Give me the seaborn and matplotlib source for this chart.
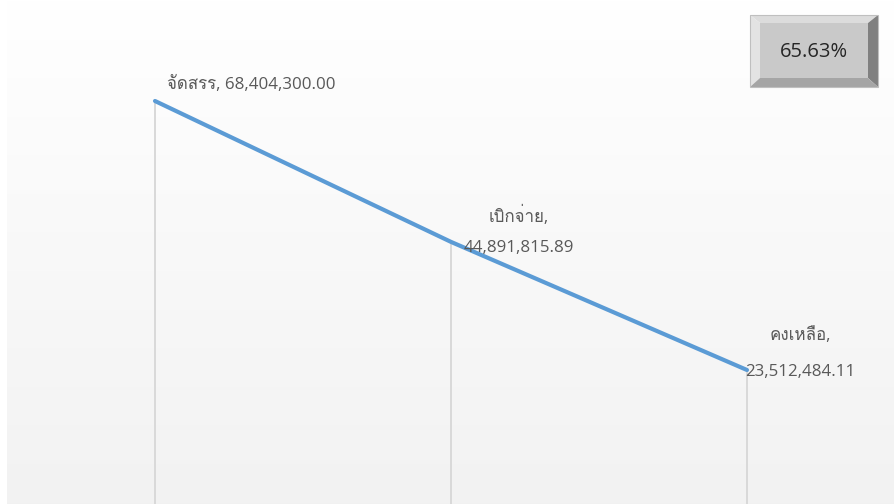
import numpy as np
import pandas as pd
import matplotlib
matplotlib.use("Agg")
import matplotlib.pyplot as plt
import matplotlib.patches as mpatches
from matplotlib import font_manager
import seaborn as sns

# data
categories = ["จัดสรร", "เบิกจ่าย", "คงเหลือ"]
values = [68404300.00, 44891815.89, 23512484.11]
value_labels = ["68,404,300.00", "44,891,815.89", "23,512,484.11"]
percent_text = "65.63%"


def thai_font():
    # look for any installed font that has Thai glyphs
    try:
        from fontTools.ttLib import TTFont
    except ImportError:
        return None
    for f in font_manager.fontManager.ttflist:
        try:
            cmap = TTFont(f.fname, fontNumber=0, lazy=True).getBestCmap()
        except Exception:
            continue
        if cmap and 0x0E08 in cmap and 0x0E2A in cmap:
            return f.name
    return None


sns.set_theme(style="white")
tf = thai_font()
fams = ["Open Sans"] + ([tf] if tf else []) + ["DejaVu Sans"]
plt.rcParams["font.family"] = fams

df = pd.DataFrame({"cat": categories, "x": range(len(categories)), "val": values})

fig = plt.figure(figsize=(8.95, 5.04), dpi=100)
fig.patch.set_facecolor("white")
ax = fig.add_axes([7 / 895, 0, 888 / 895, 1])

# gradient fill of the plot area
grad = np.linspace(1.0, 0.949, 256).reshape(-1, 1)
ax.imshow(np.dstack([grad, grad, grad]), extent=[0, 1, 0, 1], transform=ax.transAxes,
          aspect="auto", zorder=0)

ax.vlines(df["x"], 0, df["val"], color="#d9d9d9", lw=1.4, zorder=1)
sns.lineplot(data=df, x="x", y="val", color="#5b9bd5", lw=3, ax=ax, zorder=3)

ax.set_xlim(-0.5, 2.5)
ax.set_ylim(1.15e6, 85.26e6)
ax.axis("off")

txt = dict(color="#595959", fontsize=12.2, textcoords="offset points", zorder=4)
ax.annotate(f"{categories[0]}, {value_labels[0]}", (0, values[0]), xytext=(9, 12.1),
            ha="left", va="center", **txt)
ax.annotate(f"{categories[1]},\n{value_labels[1]}", (1, values[1]), xytext=(49, 8.2),
            ha="center", va="center", linespacing=2.18, **txt)
ax.annotate(f"{categories[2]},\n{value_labels[2]}", (2, values[2]), xytext=(38.5, 11.9),
            ha="center", va="center", linespacing=2.6, **txt)


# bevelled box with the percentage
def P(x, y):
    return (x / 895, 1 - y / 504)


x0, x1, y0, y1 = 750, 878, 15, 87
ix0, ix1, iy0, iy1 = 760, 868, 23, 78
bevels = [
    ([(x0, y0), (x1, y0), (ix1, iy0), (ix0, iy0)], "#dcdcdc"),
    ([(x0, y0), (ix0, iy0), (ix0, iy1), (x0, y1)], "#e3e3e3"),
    ([(x1, y0), (x1, y1), (ix1, iy1), (ix1, iy0)], "#808080"),
    ([(x0, y1), (ix0, iy1), (ix1, iy1), (x1, y1)], "#a5a5a5"),
]
for pts, c in bevels:
    fig.patches.append(mpatches.Polygon([P(*p) for p in pts], closed=True, fc=c, ec="none",
                                        transform=fig.transFigure, figure=fig))
fig.patches.append(mpatches.Polygon([P(ix0, iy0), P(ix1, iy0), P(ix1, iy1), P(ix0, iy1)],
                                    closed=True, fc="#c9c9c9", ec="none",
                                    transform=fig.transFigure, figure=fig))
fig.patches.append(mpatches.Polygon([P(x0, y0), P(x1, y0), P(x1, y1), P(x0, y1)],
                                    closed=True, fc="none", ec="#bfbfbf", lw=0.8,
                                    transform=fig.transFigure, figure=fig))
fig.text(*P(814, 52), percent_text, ha="center", va="center", fontsize=14.5, color="#262626")

fig.savefig("out.png", dpi=100)
